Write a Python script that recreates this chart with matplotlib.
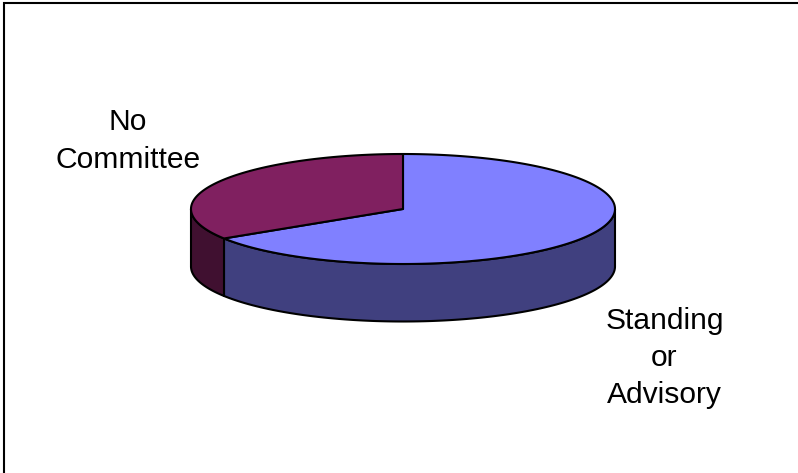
import numpy as np
import matplotlib
matplotlib.use("Agg")
import matplotlib.pyplot as plt
from matplotlib.patches import Polygon
from matplotlib.lines import Line2D

categories = ["Standing\nor\nAdvisory", "No\nCommittee"]
values = [66, 34]
top_colors = ["#8080FF", "#802060"]
side_colors = ["#40407F", "#401030"]

W, H = 798, 473
plt.rcParams["font.family"] = ["Liberation Sans", "DejaVu Sans"]
fig = plt.figure(figsize=(W / 100, H / 100), dpi=100, facecolor="white")
ax = fig.add_axes([0, 0, 1, 1])
ax.set_xlim(0, W)
ax.set_ylim(H, 0)
ax.axis("off")

cx, cy, rx, ry, depth = 403, 209, 212, 55, 57.5
LW = 1.5


def pt(theta):
    # theta: clockwise from 12 o'clock, radians
    return cx + rx * np.sin(theta), cy - ry * np.cos(theta)


fractions = np.array(values, float) / sum(values)
edges = np.concatenate([[0], np.cumsum(fractions)]) * 2 * np.pi

for i in range(len(values)):
    a = max(edges[i], np.pi / 2)
    b = min(edges[i + 1], 3 * np.pi / 2)
    if b > a:
        t = np.linspace(a, b, 200)
        x, y = pt(t)
        verts = np.vstack([np.c_[x, y], np.c_[x[::-1], y[::-1] + depth]])
        ax.add_patch(Polygon(verts, closed=True, fc=side_colors[i], ec="black", lw=LW, joinstyle="round"))

for i in range(len(values)):
    t = np.linspace(edges[i], edges[i + 1], 300)
    x, y = pt(t)
    verts = np.vstack([[cx, cy], np.c_[x, y]])
    ax.add_patch(Polygon(verts, closed=True, fc=top_colors[i], ec="black", lw=LW, joinstyle="round"))

# outer frame: left and top edges inset, running to the image edge
ax.add_line(Line2D([4, 4, W], [H, 3, 3], color="black", lw=1.5, solid_joinstyle="miter"))

ax.text(664.5, 358, categories[0], ha="center", va="center", fontsize=21.6, linespacing=1.41, color="black")
ax.text(128, 141, categories[1], ha="center", va="center", fontsize=21.6, linespacing=1.41, color="black")

fig.savefig("out.png", dpi=100, facecolor="white")
